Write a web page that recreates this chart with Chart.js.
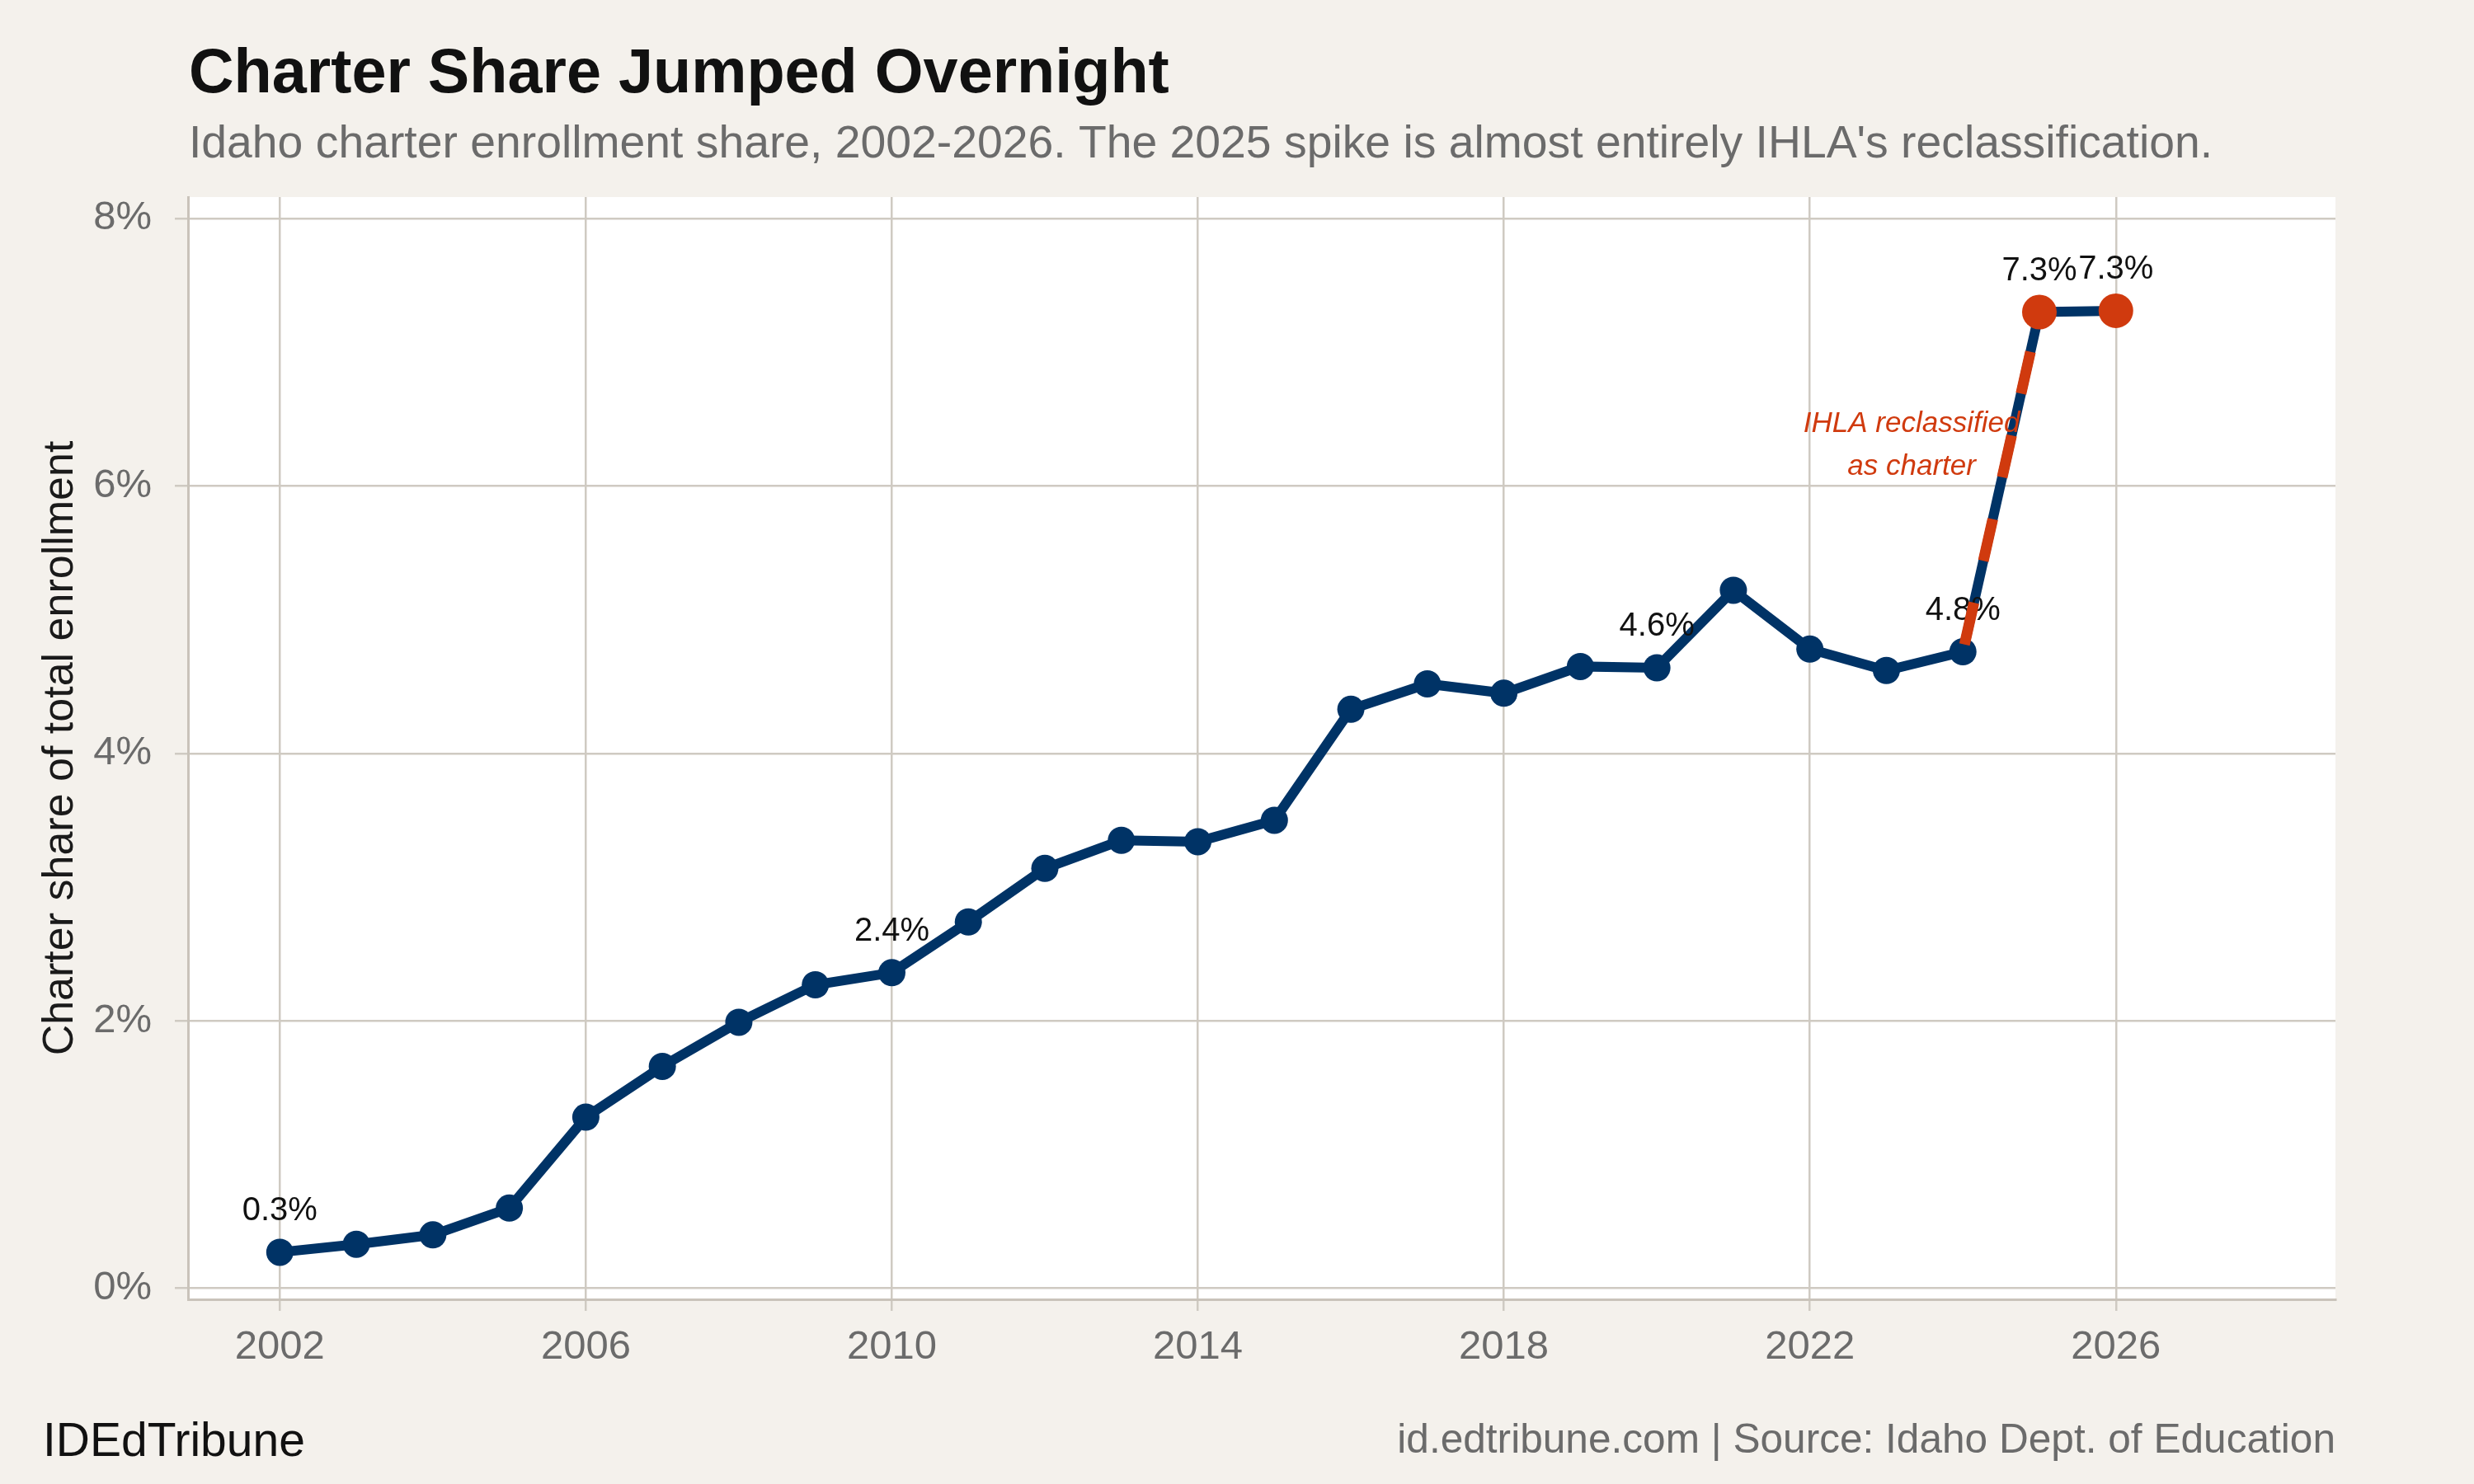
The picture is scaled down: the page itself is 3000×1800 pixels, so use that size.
<!DOCTYPE html>
<html>
<head>
<meta charset="utf-8">
<title>Charter Share Jumped Overnight</title>
<script src="https://cdn.jsdelivr.net/npm/chart.js@4.4.1/dist/chart.umd.min.js"></script>
<style>
  html, body { margin: 0; padding: 0; background: #F4F1EC; }
  #wrap { width: 3000px; height: 1800px; }
</style>
</head>
<body>
<div id="wrap"><canvas id="chart" width="3000" height="1800"></canvas></div>
<script>
// data
const years = [2002, 2003, 2004, 2005, 2006, 2007, 2008, 2009, 2010, 2011, 2012, 2013,
  2014, 2015, 2016, 2017, 2018, 2019, 2020, 2021, 2022, 2023, 2024, 2025, 2026];
const shares = [0.27, 0.33, 0.40, 0.60, 1.28, 1.66, 1.99, 2.27, 2.36, 2.74, 3.14, 3.35,
  3.34, 3.50, 4.33, 4.52, 4.45, 4.65, 4.64, 5.22, 4.78, 4.62, 4.76, 7.30, 7.31];
const labelYears = [2002, 2010, 2020, 2024, 2025, 2026];
const jumpYears = [2024, 2025];
const highlightYears = [2025, 2026];
const xTicks = [2002, 2006, 2010, 2014, 2018, 2022, 2026];
const yTicks = [0, 2, 4, 6, 8];
const noteLines = ['IHLA reclassified', 'as charter'];
const noteAt = { x: 2023.33, y: 6.3 };

const NAVY = '#003366';
const RED = '#D03A0E';
const GRID = '#CFCAC2';
const BG = '#F4F1EC';
const FONT = '"Liberation Sans", Arial, Helvetica, sans-serif';

const points = years.map((y, i) => ({ x: y, y: shares[i] }));
const jumpPoints = points.filter(p => jumpYears.includes(p.x));
const highlightPoints = points.filter(p => highlightYears.includes(p.x));

const backdrop = {
  id: 'backdrop',
  beforeDraw(chart) {
    const { ctx, chartArea: a } = chart;
    ctx.save();
    ctx.fillStyle = BG;
    ctx.fillRect(0, 0, chart.width, chart.height);
    ctx.fillStyle = '#FFFFFF';
    ctx.fillRect(a.left, a.top, a.right - a.left, a.bottom - a.top);
    ctx.restore();
  }
};

const valueLabels = {
  id: 'valueLabels',
  afterDatasetDraw(chart, args) {
    if (args.index !== 0) return;
    const { ctx, scales: { x, y } } = chart;
    ctx.save();
    // value labels
    ctx.font = '40px ' + FONT;
    ctx.fillStyle = '#111111';
    ctx.textAlign = 'center';
    ctx.textBaseline = 'middle';
    points.filter(p => labelYears.includes(p.x)).forEach(p => {
      ctx.fillText(p.y.toFixed(1) + '%', x.getPixelForValue(p.x), y.getPixelForValue(p.y) - 50);
    });
    // annotation
    ctx.font = 'italic 35px ' + FONT;
    ctx.fillStyle = RED;
    const nx = x.getPixelForValue(noteAt.x);
    const ny = y.getPixelForValue(noteAt.y);
    noteLines.forEach((t, i) => {
      ctx.fillText(t, nx, ny + (i - (noteLines.length - 1) / 2) * 52);
    });
    ctx.restore();
  }
};

const texts = {
  id: 'texts',
  afterDraw(chart) {
    const { ctx, chartArea: a } = chart;
    ctx.save();
    ctx.textBaseline = 'alphabetic';
    ctx.textAlign = 'left';
    ctx.fillStyle = '#111111';
    ctx.font = 'bold 75.6px ' + FONT;
    ctx.fillText('Charter Share Jumped Overnight', 229, 112);
    ctx.fillStyle = '#6B6B6B';
    ctx.font = '55.3px ' + FONT;
    ctx.fillText("Idaho charter enrollment share, 2002-2026. The 2025 spike is almost entirely IHLA's reclassification.", 229, 191);

    // footer
    ctx.fillStyle = '#111111';
    ctx.font = '57px ' + FONT;
    ctx.fillText('IDEdTribune', 52, 1766);
    ctx.fillStyle = '#6B6B6B';
    ctx.font = '49.6px ' + FONT;
    ctx.textAlign = 'right';
    ctx.fillText('id.edtribune.com | Source: Idaho Dept. of Education', a.right, 1762);

    // y axis title
    ctx.translate(88, (a.top + a.bottom) / 2);
    ctx.rotate(-Math.PI / 2);
    ctx.textAlign = 'center';
    ctx.fillStyle = '#1A1A1A';
    ctx.font = '52px ' + FONT;
    ctx.fillText('Charter share of total enrollment', 0, 0);
    ctx.restore();
  }
};

const ctx = document.getElementById('chart').getContext('2d');

// eslint-disable-next-line no-unused-vars
const chart = new Chart(ctx, {
  type: 'line',
  data: {
    datasets: [
      {
        data: points,
        borderColor: NAVY,
        borderWidth: 12,
        pointRadius: 16.5,
        pointBackgroundColor: NAVY,
        pointBorderWidth: 0,
        pointHoverRadius: 16.5,
        tension: 0,
        order: 3,
      },
      {
        data: jumpPoints,
        borderColor: RED,
        borderWidth: 13,
        borderDash: [52, 52],
        borderDashOffset: 95,
        borderCapStyle: 'butt',
        pointRadius: 0,
        order: 2,
      },
      {
        data: highlightPoints,
        showLine: false,
        pointRadius: 21,
        pointBackgroundColor: RED,
        pointBorderWidth: 0,
        pointHoverRadius: 21,
        order: 1,
      },
    ],
  },
  options: {
    responsive: false,
    devicePixelRatio: 1,
    animation: false,
    layout: { padding: { top: 239, right: 168, bottom: 0, left: 0 } },
    plugins: {
      legend: { display: false },
      tooltip: { enabled: false },
    },
    scales: {
      x: {
        type: 'linear',
        min: 2000.8,
        max: 2028.87,
        afterFit(scale) { scale.height = 224; },
        afterBuildTicks(scale) { scale.ticks = xTicks.map(v => ({ value: v })); },
        grid: { color: GRID, lineWidth: 2.5, tickLength: 14, tickColor: GRID },
        border: { display: true, color: '#C9C3BA', width: 3 },
        ticks: {
          color: '#6B6B6B',
          font: { family: FONT, size: 49 },
          padding: 15,
          maxRotation: 0,
          autoSkip: false,
          callback: v => String(v),
        },
      },
      y: {
        type: 'linear',
        min: -0.082,
        max: 8.16,
        afterFit(scale) { scale.width = 228; },
        afterBuildTicks(scale) { scale.ticks = yTicks.map(v => ({ value: v })); },
        grid: { color: GRID, lineWidth: 2.5, tickLength: 16, tickColor: GRID },
        border: { display: true, color: '#C9C3BA', width: 3 },
        ticks: {
          color: '#6B6B6B',
          font: { family: FONT, size: 49 },
          padding: 28,
          autoSkip: false,
          callback: v => v + '%',
        },
      },
    },
  },
  plugins: [backdrop, valueLabels, texts],
});
</script>
</body>
</html>
